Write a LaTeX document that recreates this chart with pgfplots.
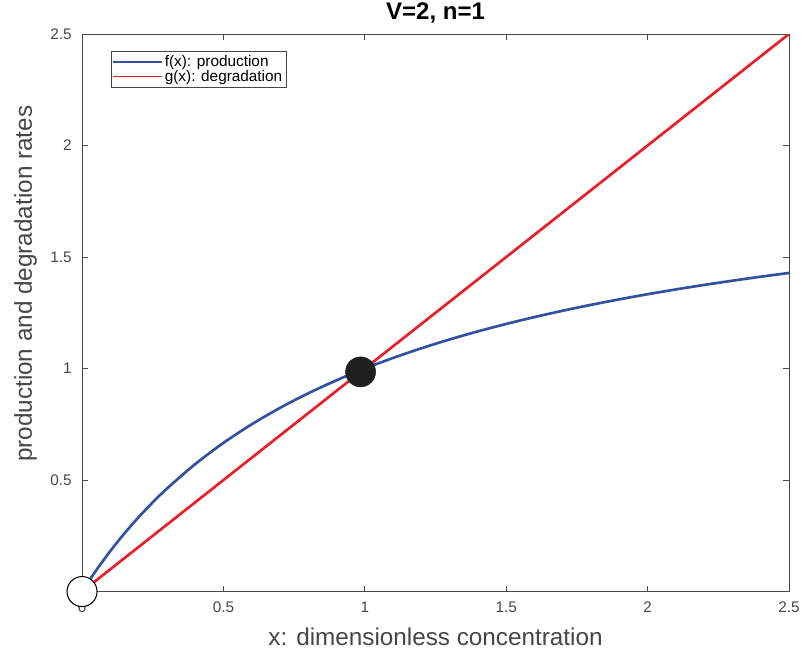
\documentclass[border=0pt]{standalone}
\usepackage{pgfplots}
\pgfplotsset{compat=1.18}
\usepackage{fontspec}
\setmainfont{Liberation Sans}

\definecolor{fblue}{RGB}{52,80,160}
\definecolor{gred}{RGB}{232,30,40}
\definecolor{axgray}{RGB}{70,70,70}

\begin{document}
\begin{tikzpicture}
\begin{axis}[
    width=530pt, height=418pt,
    scale only axis,
    xmin=0, xmax=2.5, ymin=0, ymax=2.5,
    xtick={0,0.5,1,1.5,2,2.5},
    ytick={0.5,1,1.5,2,2.5},
    tick align=inside,
    major tick length=4.5pt,
    axis line style={axgray, line width=0.7pt},
    every tick/.style={axgray, line width=0.7pt},
    tick label style={font=\fontsize{11.5}{13}\selectfont, text=axgray},
    xticklabel style={anchor=base, yshift=-15.75pt},
    yticklabel style={anchor=east, xshift=-4.2pt},
    /pgf/number format/assume math mode=true,
    xlabel={x: dimensionless concentration},
    ylabel={production and degradation rates},
    label style={font=\fontsize{18.2}{20}\selectfont, text=axgray},
    xlabel style={at={(axis description cs:0.5,0)}, anchor=base, yshift=-40.5pt},
    ylabel style={at={(axis description cs:-0.0708,0.552)}, anchor=base},
    title={\textbf{V=2, n=1}},
    title style={at={(axis description cs:0.5,1)}, anchor=base, yshift=5.25pt,
        font=\fontsize{18}{20}\selectfont},
    legend style={at={(rel axis cs:0.041,0.9695)}, anchor=north west,
        draw=axgray, line width=0.7pt, font=\fontsize{11.5}{11.5}\selectfont,
        inner sep=1pt, row sep=-3pt, cells={anchor=west}},
]
\addplot[fblue, line width=2pt, smooth,
    legend image code/.code={\draw[fblue, line width=1pt] (0pt,0pt) -- (36pt,0pt);}]
    coordinates {
  (0,0) (0.02,0.0392) (0.05,0.0952) (0.1,0.1818) (0.15,0.2609) (0.2,0.3333)
  (0.25,0.4) (0.3,0.4615) (0.4,0.5714) (0.5,0.6667) (0.6,0.75) (0.7,0.8235)
  (0.8,0.8889) (0.9,0.9474) (1.0,1.0) (1.1,1.0476) (1.2,1.0909) (1.3,1.1304)
  (1.4,1.1667) (1.5,1.2) (1.6,1.2308) (1.7,1.2593) (1.8,1.2857) (1.9,1.3103)
  (2.0,1.3333) (2.1,1.3548) (2.2,1.375) (2.3,1.3939) (2.4,1.4118) (2.5,1.4286)
};
\addlegendentry{f(x): production}
\addplot[gred, line width=2pt,
    legend image code/.code={\draw[gred, line width=1pt] (0pt,0pt) -- (36pt,0pt);}]
    coordinates {(0,0) (2.5,2.5)};
\addlegendentry{g(x): degradation}
\addplot[only marks, mark=*, mark size=11.25pt,
    mark options={fill=white, draw=black, line width=0.8pt}, forget plot]
    coordinates {(0,0)};
\addplot[only marks, mark=*, mark size=11.25pt,
    mark options={fill=black!88, draw=black!88}, forget plot]
    coordinates {(0.985,0.985)};
\end{axis}
\pgfresetboundingbox
\path ([xshift=-61.5pt,yshift=-46.5pt]current axis.south west)
    rectangle ([xshift=9pt,yshift=25.5pt]current axis.north east);
\end{tikzpicture}
\end{document}
